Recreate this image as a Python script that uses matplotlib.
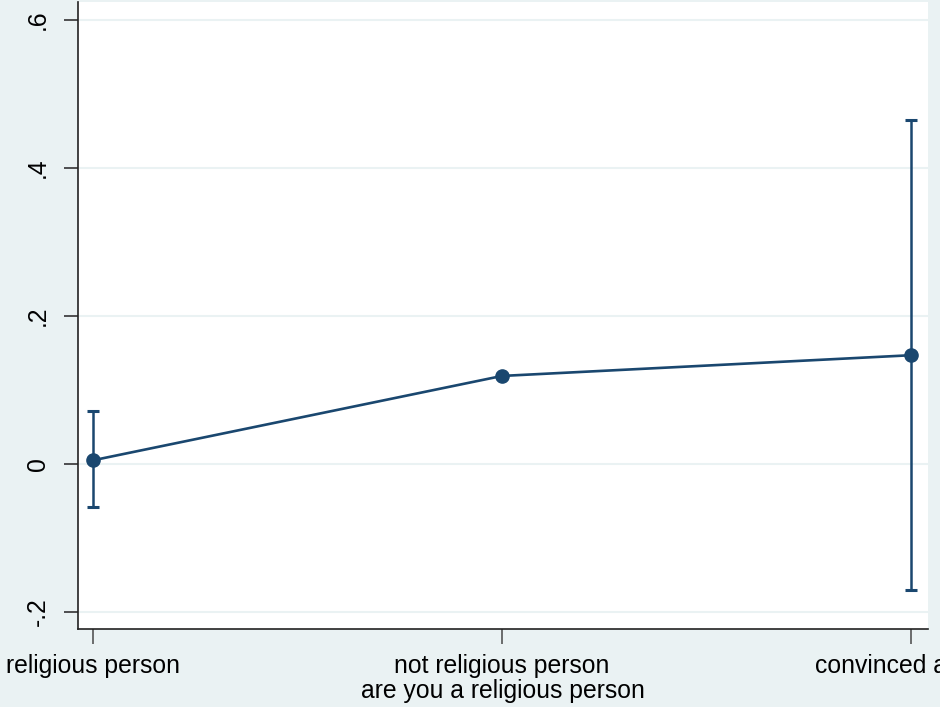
import matplotlib
matplotlib.use("Agg")
import matplotlib.pyplot as plt

# Predictive margins by religiosity category
categories = ["religious person", "not religious person", "convinced atheist"]
margins = [0.005, 0.119, 0.147]
ci_low = [-0.058, 0.116, -0.170]
ci_high = [0.071, 0.122, 0.465]
y_ticks = [-0.2, 0.0, 0.2, 0.4, 0.6]
y_tick_labels = ["-.2", "0", ".2", ".4", ".6"]
x_title = "are you a religious person"

navy = "#1a476f"
bg = "#eaf2f3"
fs = 17.8

plt.rcParams["font.family"] = ["Liberation Sans", "DejaVu Sans"]

fig = plt.figure(figsize=(9.4, 7.07), dpi=100, facecolor=bg)
ax = fig.add_axes([78 / 940, 1 - 629 / 707, (928 - 78) / 940, (629 - 2) / 707])
ax.set_facecolor("white")

x = [1, 2, 3]
yerr = [[m - lo for m, lo in zip(margins, ci_low)],
        [hi - m for m, hi in zip(margins, ci_high)]]
ax.errorbar(x, margins, yerr=yerr, fmt="none", ecolor=navy, elinewidth=1.8,
            capsize=4, capthick=2.2, zorder=3)
ax.plot(x, margins, color=navy, lw=1.9, marker="o", markersize=9.5,
        markerfacecolor=navy, markeredgecolor=navy, zorder=4)

ax.set_xlim(1 - 15 / 409, 3 + 17 / 409)
ax.set_ylim(-0.2 - 17 / 740, 0.6 + 18 / 740)

ax.set_yticks(y_ticks)
ax.set_yticklabels(y_tick_labels, rotation=90, va="center", fontsize=fs)
ax.set_xticks(x)
ax.set_xticklabels(categories, fontsize=fs)
ax.set_xlabel(x_title, fontsize=fs, labelpad=1)

ax.grid(axis="y", color=bg, lw=1.5, zorder=0)
ax.set_axisbelow(True)
for s in ["top", "right"]:
    ax.spines[s].set_visible(False)
for s in ["left", "bottom"]:
    ax.spines[s].set_color("#222222")
    ax.spines[s].set_linewidth(1.2)
ax.tick_params(axis="x", length=11, width=1.2, color="#555555", pad=7)
ax.tick_params(axis="y", length=10, width=1.2, color="#333333", pad=19)
for lbl in ax.get_yticklabels():
    lbl.set_horizontalalignment("center")

fig.savefig("out.png", dpi=100, facecolor=bg)
